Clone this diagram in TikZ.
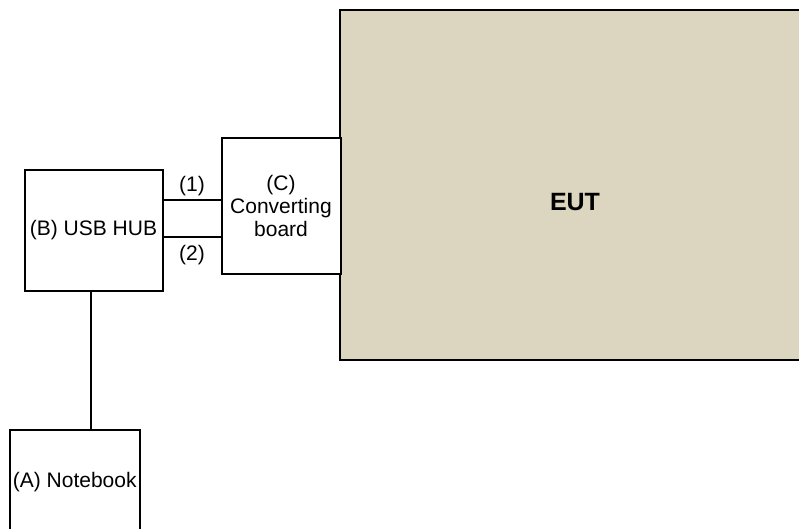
\documentclass[tikz,border=0pt]{standalone}
\usepackage{fontspec}
\setmainfont{Liberation Sans}
\definecolor{eutfill}{HTML}{DCD6C0}
\begin{document}
\begin{tikzpicture}[x=1pt, y=-1pt,
  every node/.style={font=\fontsize{21}{23}\selectfont, inner sep=0pt},
  box/.style={draw=black, line width=2pt, fill=white, align=center},
  link/.style={draw=black, line width=2pt}]

\useasboundingbox (0,0) rectangle (799,528);
\clip (0,0) rectangle (799,528);

% EUT block (runs past the right edge)
\node[box, fill=eutfill, line width=2.5pt, minimum width=470pt, minimum height=350pt] (eut) at (575,185) {};
\node[font=\fontsize{25}{28}\selectfont\bfseries] (eutlabel) at (575,202) {EUT};

%converting board
\node[box, minimum width=119pt, minimum height=136pt] (conv) at (281,206) {(C)\\Converting\\board};

%usb hub
\node[box, minimum width=138pt, minimum height=121pt] (hub) at (93.5,230.5) {(B) USB HUB};

%notebook
\node[box, minimum width=130.5pt, minimum height=104pt] (nb) at (74.75,482) {(A) Notebook};

%cables hub -> board
\draw[link] ([yshift=30.5pt]hub.east) coordinate (c1) -- (c1 -| conv.west);
\draw[link] ([yshift=-6.2pt]hub.east) coordinate (c2) -- (c2 -| conv.west);
\node (lab1) at (192,186) {(1)};
\node (lab2) at (192,255) {(2)};

%cable notebook -> hub
\draw[link] ([xshift=-2.8pt]hub.south) -- ([xshift=-2.8pt]hub.south |- nb.north);

\end{tikzpicture}
\end{document}
